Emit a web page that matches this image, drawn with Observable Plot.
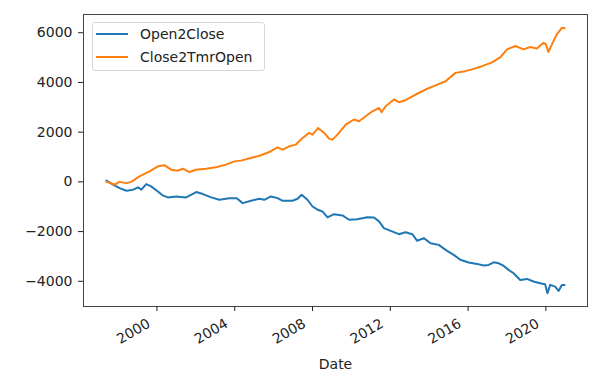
<!DOCTYPE html>
<html><head><meta charset="utf-8">
<script src="https://cdn.jsdelivr.net/npm/d3@7"></script>
<script src="https://cdn.jsdelivr.net/npm/@observablehq/plot@0.6"></script>
<style>
body{margin:0;background:#fff;}
#wrap{position:relative;width:610px;height:382px;font-family:"DejaVu Sans",sans-serif;}
.legend{position:absolute;left:92px;top:22px;width:173px;height:49px;border:1px solid #d6d6d6;border-radius:3px;background:rgba(255,255,255,0.8);box-sizing:border-box;font-size:14px;color:#222;}
.row{position:absolute;left:0;height:20px;display:flex;align-items:center;white-space:nowrap;}
.sw{width:32px;height:2px;margin-left:3px;margin-right:12px;}
</style></head><body><div id="wrap"></div>
<script>
const seriesNames = ["Open2Close", "Close2TmrOpen"];
const seriesColors = ["#1f77b4", "#ff7f0e"];

// Open2Close (decimal years, values)
const o2cYears = [1997.40,1997.74,1998.08,1998.43,1998.77,1999.03,1999.20,1999.45,1999.70,2000.05,2000.30,2000.56,2000.99,2001.50,2002.02,2002.36,2002.79,2003.21,2003.72,2004.10,2004.41,2004.84,2005.26,2005.52,2005.86,2006.20,2006.46,2006.97,2007.23,2007.44,2007.74,2008.00,2008.26,2008.51,2008.77,2009.10,2009.54,2009.88,2010.30,2010.82,2011.16,2011.42,2011.67,2012.02,2012.44,2012.78,2013.13,2013.38,2013.72,2014.07,2014.49,2014.92,2015.26,2015.60,2016.03,2016.46,2016.80,2017.05,2017.31,2017.57,2017.80,2018.08,2018.34,2018.68,2019.03,2019.36,2019.70,2019.96,2020.08,2020.22,2020.48,2020.65,2020.82,2020.96];
const o2cValues = [50,-113,-250,-355,-315,-220,-315,-90,-180,-385,-545,-625,-585,-625,-410,-490,-625,-720,-655,-655,-855,-760,-680,-720,-585,-655,-760,-760,-680,-515,-720,-990,-1120,-1190,-1430,-1300,-1350,-1525,-1500,-1420,-1430,-1590,-1860,-1970,-2105,-2025,-2105,-2370,-2265,-2470,-2535,-2775,-2935,-3135,-3245,-3300,-3365,-3340,-3235,-3275,-3365,-3540,-3675,-3945,-3905,-4010,-4080,-4120,-4480,-4145,-4215,-4390,-4145,-4150];

// Close2TmrOpen (decimal years, values)
const c2tYears = [1997.40,1997.60,1997.83,1998.08,1998.43,1998.68,1999.10,1999.62,2000.05,2000.40,2000.73,2001.08,2001.33,2001.67,2002.00,2002.53,2003.04,2003.55,2003.98,2004.32,2004.83,2005.35,2005.77,2006.20,2006.46,2006.80,2007.14,2007.49,2007.83,2008.00,2008.29,2008.60,2008.85,2009.03,2009.28,2009.71,2010.13,2010.39,2010.73,2011.08,2011.42,2011.55,2011.76,2012.19,2012.44,2012.78,2013.30,2013.81,2014.32,2014.84,2015.35,2015.86,2016.20,2016.72,2017.23,2017.66,2018.00,2018.43,2018.85,2019.20,2019.54,2019.88,2020.00,2020.13,2020.31,2020.56,2020.82,2020.96];
const c2tValues = [0,-40,-113,0,-50,0,220,420,625,665,490,450,530,395,490,530,585,695,825,855,960,1070,1200,1390,1300,1430,1500,1765,1970,1900,2170,1970,1740,1700,1900,2305,2510,2440,2640,2840,2975,2800,3045,3315,3205,3285,3515,3715,3880,4050,4385,4455,4525,4655,4810,5020,5330,5465,5330,5425,5370,5600,5530,5230,5530,5935,6200,6180];

const yTicks = [-4000,-2000,0,2000,4000,6000];
const xTickYears = [2000,2004,2008,2012,2016,2020];

const toDate = y => { const yr = Math.floor(y); const s = Date.UTC(yr,0,1), e = Date.UTC(yr+1,0,1); return new Date(s + (y - yr) * (e - s)); };

const rows = [];
o2cYears.forEach((y,i) => rows.push({series: seriesNames[0], date: toDate(y), value: o2cValues[i]}));
c2tYears.forEach((y,i) => rows.push({series: seriesNames[1], date: toDate(y), value: c2tValues[i]}));

const pad = (ext) => { const p = (ext[1]-ext[0])*0.05; return [ext[0]-p, ext[1]+p]; };
const xExt = pad(d3.extent(rows, d => +d.date));
const xDomain = [new Date(xExt[0]), new Date(xExt[1])];
const yDomain = pad(d3.extent(rows, d => d.value));

const fmt = d => d < 0 ? "\u2212" + Math.abs(d) : String(d);
const xTickDates = xTickYears.map(y => new Date(Date.UTC(y,0,1)));

const chart = Plot.plot({
  width: 610, height: 382,
  marginLeft: 83, marginRight: 23, marginTop: 14, marginBottom: 76,
  style: {fontFamily: "DejaVu Sans", fontSize: "14px", color: "#222", background: "#fff", overflow: "visible"},
  x: {type: "utc", domain: xDomain},
  y: {domain: yDomain},
  color: {domain: seriesNames, range: seriesColors},
  marks: [
    Plot.line(rows, {x: "date", y: "value", stroke: "series", strokeWidth: 2}),
    Plot.frame({stroke: "#444", strokeWidth: 1}),
    Plot.axisY({ticks: yTicks, tickSize: 5, tickPadding: 6, tickFormat: fmt, label: null}),
    Plot.axisX({ticks: xTickDates, tickSize: 5, tickFormat: () => "", label: null}),
    Plot.axisX({ticks: xTickDates, tickSize: 0, tickPadding: 16, dx: -8, tickRotate: -30, tickFormat: d3.utcFormat("%Y"), label: null}),
    Plot.axisX({ticks: [], tickSize: 0, label: "Date", labelAnchor: "center", labelOffset: 62, labelArrow: "none"})
  ]
});

const wrap = document.getElementById("wrap");
wrap.appendChild(chart);
const lg = document.createElement("div");
lg.className = "legend";
seriesNames.forEach((n,i) => {
  const r = document.createElement("div");
  r.className = "row";
  r.style.top = (i === 0 ? 1 : 24) + "px";
  const s = document.createElement("span"); s.className = "sw"; s.style.background = seriesColors[i];
  const t = document.createElement("span"); t.textContent = n;
  r.appendChild(s); r.appendChild(t); lg.appendChild(r);
});
wrap.appendChild(lg);
</script></body></html>
